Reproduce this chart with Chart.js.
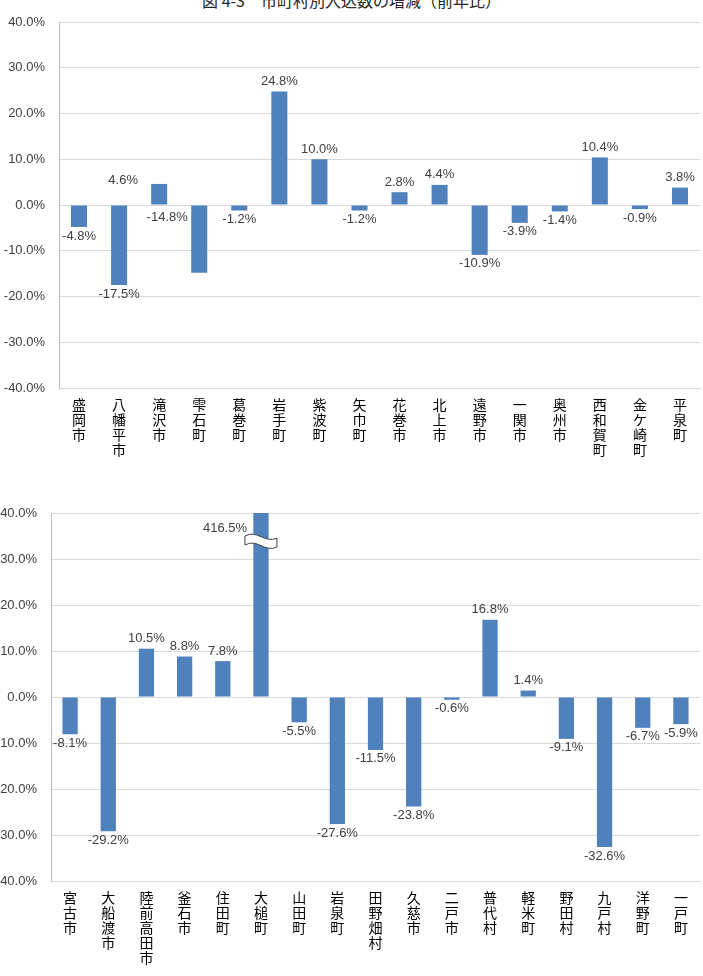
<!DOCTYPE html>
<html>
<head>
<meta charset="utf-8">
<script src="https://cdn.jsdelivr.net/npm/chart.js@4.4.1/dist/chart.umd.min.js"></script>
<style>
body { margin:0; background:#fff; width:703px; height:976px; overflow:hidden; position:relative; font-family:'Noto Sans CJK JP', sans-serif; }
#title { position:absolute; top:-8px; left:0; width:703px; text-align:center; font-size:16px; line-height:16px; color:#262626; white-space:pre; }
#chart1 { position:absolute; left:0; top:0; }
#chart2 { position:absolute; left:-8px; top:490px; }
</style>
</head>
<body>
<div id="title">図 4-3　市町村別入込数の増減（前年比）</div>
<canvas id="chart1" width="703" height="470"></canvas>
<canvas id="chart2" width="711" height="486"></canvas>
<script>
// 上段（内陸）
const towns1 = ['盛岡市','八幡平市','滝沢市','雫石町','葛巻町','岩手町','紫波町','矢巾町','花巻市','北上市','遠野市','一関市','奥州市','西和賀町','金ケ崎町','平泉町'];
const rates1 = [-4.8, -17.5, 4.6, -14.8, -1.2, 24.8, 10.0, -1.2, 2.8, 4.4, -10.9, -3.9, -1.4, 10.4, -0.9, 3.8];

// 下段（沿岸・県北）
const towns2 = ['宮古市','大船渡市','陸前高田市','釜石市','住田町','大槌町','山田町','岩泉町','田野畑村','久慈市','二戸市','普代村','軽米町','野田村','九戸村','洋野町','一戸町'];
const rates2 = [-8.1, -29.2, 10.5, 8.8, 7.8, 416.5, -5.5, -27.6, -11.5, -23.8, -0.6, 16.8, 1.4, -9.1, -32.6, -6.7, -5.9];

const yMin = -40, yMax = 40, yStep = 10;

const BAR = '#4F81BD';
const GRID = '#D9D9D9';
const TXT = '#404040';

// 手で動かされたラベル（元の図のまま）
const moved = { '滝沢市': [-36, 6], '雫石町': [-32, -64] };

const valueLabels = {
  id: 'valueLabels',
  afterDatasetsDraw(chart) {
    const {ctx, chartArea, scales: {y}} = chart;
    const meta = chart.getDatasetMeta(0);
    const vals = chart.data.datasets[0].data;
    ctx.save();
    ctx.font = '13px "Liberation Sans"';
    ctx.fillStyle = TXT;
    ctx.textAlign = 'center';
    ctx.textBaseline = 'middle';
    meta.data.forEach((bar, i) => {
      const v = vals[i];
      const name = chart.data.labels[i].join('');
      let x = bar.x, ty;
      if (v > y.max) {
        // 省略記号（波線）
        const y0 = chartArea.top + 28, x1 = bar.x - 16, x2 = bar.x + 16;
        ctx.beginPath();
        ctx.moveTo(x1, y0 - 5);
        ctx.bezierCurveTo(x1 + 12, y0 - 12, x1 + 20, y0 + 3, x2, y0 - 3);
        ctx.lineTo(x2, y0 + 6);
        ctx.bezierCurveTo(x1 + 20, y0 + 12, x1 + 12, y0 - 3, x1, y0 + 4);
        ctx.closePath();
        ctx.fillStyle = '#fff';
        ctx.fill();
        ctx.strokeStyle = '#404040';
        ctx.lineWidth = 1;
        ctx.stroke();
        ctx.fillStyle = TXT;
        x = bar.x - 36;
        ty = chartArea.top + 15;
      } else if (v >= 0) {
        ty = bar.y - 10;
      } else {
        ty = bar.y + 9;
      }
      if (moved[name]) { x += moved[name][0]; ty += moved[name][1]; }
      ctx.fillText(v.toFixed(1) + '%', x, ty);
    });
    ctx.restore();
  }
};

function makeChart(id, towns, rates, padTop, xHeight) {
  return new Chart(document.getElementById(id), {
    type: 'bar',
    data: {
      labels: towns.map(s => [...s]),
      datasets: [{
        data: rates,
        backgroundColor: BAR,
        barPercentage: 0.4,
        categoryPercentage: 1.0,
        clip: 0
      }]
    },
    options: {
      responsive: false,
      animation: false,
      devicePixelRatio: 1,
      layout: { padding: { top: padTop, right: 3, left: 0, bottom: 0 } },
      plugins: { legend: { display: false }, tooltip: { enabled: false } },
      scales: {
        x: {
          grid: { display: false, drawTicks: false },
          border: { color: GRID },
          ticks: {
            autoSkip: false, maxRotation: 0, minRotation: 0, padding: 9,
            color: '#000',
            font: { family: 'Noto Sans CJK JP', size: 14, lineHeight: '15px' }
          },
          afterFit: s => { s.height = xHeight; }
        },
        y: {
          min: yMin, max: yMax,
          grid: { color: GRID, drawTicks: false },
          border: { color: '#BFBFBF' },
          ticks: {
            stepSize: yStep, padding: 14, color: TXT,
            font: { family: 'Liberation Sans', size: 13 },
            callback: v => v.toFixed(1) + '%'
          },
          afterFit: s => { s.width = 59; }
        }
      }
    },
    plugins: [valueLabels]
  });
}

makeChart('chart1', towns1, rates1, 22, 82);
makeChart('chart2', towns2, rates2, 23, 95);
</script>
</body>
</html>
